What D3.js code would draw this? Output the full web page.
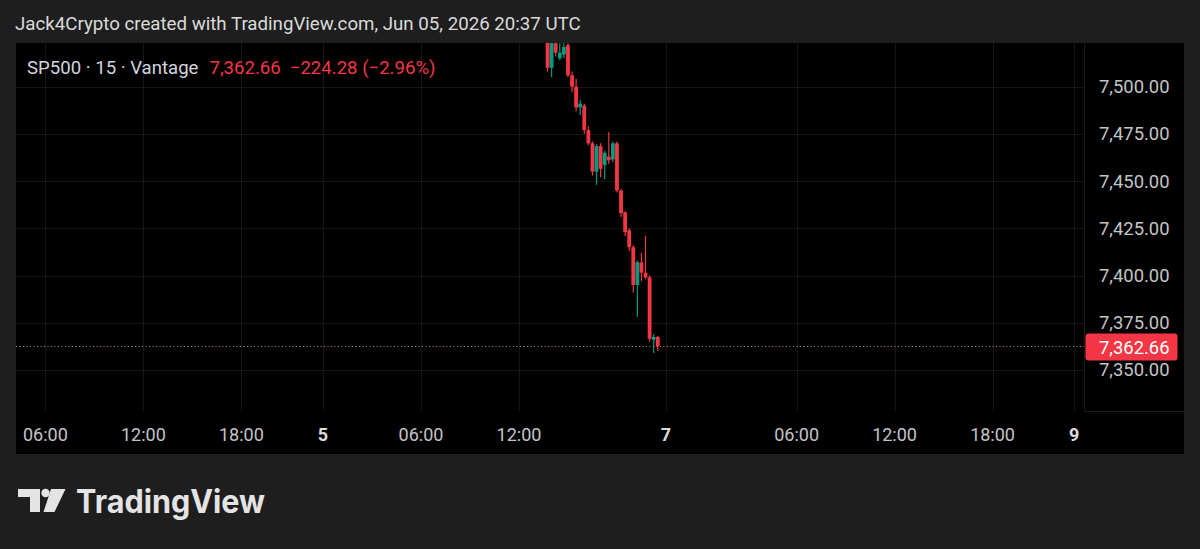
<!DOCTYPE html>
<html><head><meta charset="utf-8">
<script src="https://cdn.jsdelivr.net/npm/d3@7"></script>
<style>html,body{margin:0;padding:0;background:#1e1e1e;overflow:hidden}</style>
</head><body>
<svg id="c" width="1200" height="549"></svg>
<script>
const headerText = "Jack4Crypto created with TradingView.com, Jun 05, 2026 20:37 UTC";
const symbolText = "SP500 · 15 · Vantage";
const prevClose = 7586.94;
// 15-minute bars, Jun 05 2026 (UTC)
const barTimes = ["13:45","14:00","14:15","14:30","14:45","15:00","15:15","15:30","15:45","16:00","16:15","16:30","16:45","17:00","17:15","17:30","17:45","18:00","18:15","18:30","18:45","19:00","19:15","19:30","19:45","20:00","20:15","20:30"];
const opens  = [7530,7510,7523,7515,7517,7522,7506,7500,7489,7490,7477,7470,7455,7468.5,7458.5,7463,7461.5,7470,7445,7433.5,7424,7415,7395,7407,7401.5,7399,7366,7367.5];
const highs  = [7533,7526,7526,7523,7524,7524,7508,7504,7493,7491,7479,7471,7469.5,7470,7466,7476,7471,7471,7446,7434,7425,7416,7408,7412,7421,7400,7369,7368];
const lows   = [7508,7505,7516,7514,7515,7505,7497,7487,7485,7475,7469,7453,7448,7452,7451,7459,7460,7444,7431,7421,7413,7391,7378,7397,7398,7365,7359,7360];
const closes = [7510,7523,7518,7518,7521,7506,7500,7489,7491,7477,7470,7455,7468.5,7456.5,7465,7461,7470,7445,7433,7423,7415,7395,7407,7401.5,7399,7366.5,7367.5,7362.66];
const priceTicks = [7350,7375,7400,7425,7450,7475,7500];
const timeTickLabels = ["06:00","12:00","18:00","5","06:00","12:00","7","06:00","12:00","18:00","9"];
// bar offsets (15-min bars) relative to the Jun 05 12:00 bar
const timeTickBars = [-116,-92,-68,-48,-24,0,36,68,92,116,136];

const UP = "#089981", DOWN = "#f23645";
const svg = d3.select("#c");
const W = 1200, H = 549;
const panel = {x:16, y:43, w:1168, h:411};
const plot = {x0:16, x1:1084, y0:43, y1:411};

svg.append("rect").attr("width",W).attr("height",H).attr("fill","#1e1e1e");
svg.append("text").attr("x",15).attr("y",30).attr("fill","#dadada")
  .attr("font-family","Roboto").attr("font-size",18.7).text(headerText);
svg.append("rect").attr("x",panel.x).attr("y",panel.y).attr("width",panel.w).attr("height",panel.h).attr("fill","#000");

const barIndex = t => { const [h,m] = t.split(":").map(Number); return (h*60+m-720)/15; };
const x = d3.scaleLinear().domain([-123.2, 138.4]).range([plot.x0, plot.x1]);
const y = d3.scaleLinear().domain([7328.3, 7523.1]).range([plot.y1, plot.y0]);

// grid
const grid = svg.append("g");
grid.selectAll("line.h").data(priceTicks).join("line")
  .attr("x1",plot.x0).attr("x2",plot.x1).attr("y1",d=>Math.round(y(d))+0.5).attr("y2",d=>Math.round(y(d))+0.5)
  .attr("stroke","#161616");
grid.selectAll("line.v").data(timeTickBars).join("line")
  .attr("y1",plot.y0).attr("y2",plot.y1).attr("x1",d=>Math.round(x(d))+0.5).attr("x2",d=>Math.round(x(d))+0.5)
  .attr("stroke","#161616");
// axis separators
svg.append("line").attr("x1",plot.x1+0.5).attr("x2",plot.x1+0.5).attr("y1",plot.y0).attr("y2",plot.y1).attr("stroke","#1a1a1a");
svg.append("line").attr("x1",plot.x1).attr("x2",panel.x+panel.w).attr("y1",plot.y1+0.5).attr("y2",plot.y1+0.5).attr("stroke","#1a1a1a");

// candles
svg.append("clipPath").attr("id","clip").append("rect")
  .attr("x",plot.x0).attr("y",plot.y0).attr("width",plot.x1-plot.x0).attr("height",plot.y1-plot.y0);
const bars = barTimes.map((t,i)=>({i:barIndex(t),o:opens[i],h:highs[i],l:lows[i],c:closes[i]}));
const cg = svg.append("g").attr("clip-path","url(#clip)");
const bw = 3.8;
cg.selectAll("line.wick").data(bars).join("line")
  .attr("x1",d=>x(d.i)).attr("x2",d=>x(d.i))
  .attr("y1",d=>y(d.h)).attr("y2",d=>y(d.l))
  .attr("stroke",d=>d.c>=d.o?UP:DOWN).attr("stroke-width",1.2);
cg.selectAll("rect.body").data(bars).join("rect")
  .attr("x",d=>x(d.i)-bw/2).attr("width",bw)
  .attr("y",d=>y(Math.max(d.o,d.c))).attr("height",d=>Math.max(1,Math.abs(y(d.o)-y(d.c))))
  .attr("fill",d=>d.c>=d.o?UP:DOWN);

// last price line
const last = closes[closes.length-1];
const ly = Math.round(y(last))+0.5;
svg.append("line").attr("x1",plot.x0).attr("x2",plot.x1).attr("y1",ly).attr("y2",ly)
  .attr("stroke","#c48aa6").attr("stroke-width",1).attr("stroke-dasharray","1,2.5");

// price axis labels
svg.append("g").selectAll("text").data(priceTicks).join("text")
  .attr("x",1169.5).attr("y",d=>y(d)).attr("dy","0.35em").attr("text-anchor","end")
  .attr("fill","#c4c4c4").attr("font-family","Roboto").attr("font-size",18.4)
  .text(d=>d3.format(",.2f")(d));
svg.append("rect").attr("x",1085.5).attr("y",y(last)-12.5).attr("width",92).attr("height",27).attr("rx",3).attr("fill",DOWN);
svg.append("text").attr("x",1169.5).attr("y",y(last)+1).attr("dy","0.35em").attr("text-anchor","end")
  .attr("fill","#ffffff").attr("font-family","Roboto").attr("font-size",18.4).text(d3.format(",.2f")(last));

// time axis labels
svg.append("g").selectAll("text").data(timeTickLabels).join("text")
  .attr("x",(d,i)=>x(timeTickBars[i])).attr("y",441).attr("text-anchor","middle")
  .attr("fill",d=>d.includes(":")?"#c4c4c4":"#dcdcdc").attr("font-weight",d=>d.includes(":")?400:700)
  .attr("font-family","Roboto").attr("font-size",18).text(d=>d);

// legend
const fmtSigned = v => (v<0?"\u2212":"+") + d3.format(",.2f")(Math.abs(v));
const chg = last - prevClose, pct = chg/prevClose*100;
const lg = svg.append("g").attr("font-family","Roboto").attr("font-size",18.6);
const t1 = lg.append("text").attr("x",27).attr("y",74).attr("fill","#d1d4dc").text(symbolText);
const w1 = t1.node().getComputedTextLength();
const t2 = lg.append("text").attr("x",27+w1+11).attr("y",74).attr("fill",DOWN).text(d3.format(",.2f")(last));
const w2 = t2.node().getComputedTextLength();
lg.append("text").attr("x",27+w1+11+w2+9).attr("y",74).attr("fill",DOWN)
  .text(fmtSigned(chg)+" ("+fmtSigned(pct)+"%)");

// TradingView logo
const logo = svg.append("g").attr("fill","#e4e4e4");
logo.append("path").attr("d","M18,489 H40 V512 H30 V497 H18 Z");
logo.append("circle").attr("cx",45.5).attr("cy",493).attr("r",4.2);
logo.append("path").attr("d","M51,489 H65.5 L54.5,512 H43.5 Z");
logo.append("text").attr("x",76).attr("y",513).attr("font-family","Inter").attr("font-weight",700)
  .attr("font-size",32).attr("textLength",189).attr("lengthAdjust","spacingAndGlyphs").text("TradingView");
</script>
</body></html>
